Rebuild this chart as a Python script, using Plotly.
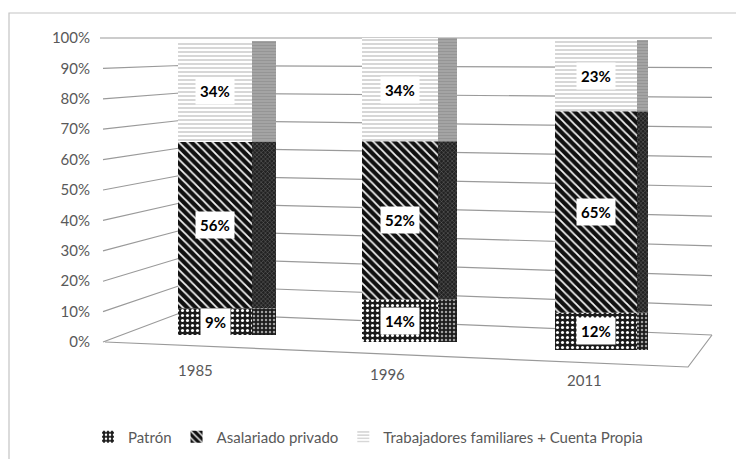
import plotly.graph_objects as go

# ---- data (percent of employed, by occupational category) ----
years = ["1985", "1996", "2011"]
series_names = ["Patrón", "Asalariado privado", "Trabajadores familiares + Cuenta Propia"]
patron = [9, 14, 12]
asalariado = [56, 52, 65]
trabajadores = [34, 34, 23]
tick_values = [0, 10, 20, 30, 40, 50, 60, 70, 80, 90, 100]
tick_labels = ["0%", "10%", "20%", "30%", "40%", "50%", "60%", "70%", "80%", "90%", "100%"]

series_values = [patron, asalariado, trabajadores]

# ---- canvas geometry (pixels) ----
W, H = 736, 459
FONT = "Lato"
TEXT_GREY = "#595959"
GRID_GREY = "#9a9a9a"


def px(x):
    return x / W


def py(y):
    return 1 - y / H


# value axis as printed on the left edge of the side wall
AXIS_Y0, AXIS_Y100 = 342, 38
# side wall / back wall corners of the pseudo-3D box
WALL_LEFT_X, WALL_RIGHT_X = 180, 712
LABEL_LINE_X = 103
BACK_TOP_Y = 38


def back_height(x):
    # back wall gets slightly taller toward the right (perspective)
    return 275 + (x - WALL_LEFT_X) * (22 / (WALL_RIGHT_X - WALL_LEFT_X))


def axis_y(v):
    return AXIS_Y0 + (AXIS_Y100 - AXIS_Y0) * v / 100


def back_y(v, x):
    return BACK_TOP_Y + (1 - v / 100) * back_height(x)


# horizontal placement of the columns
X0, UNIT = 215, 190.5
FRONT_PX = [(178, 252), (362, 438), (555, 637)]
SIDE_RIGHT_PX = [276, 457, 648]
COL_BOTTOM_PX = [335, 342, 350]
COL_TOP_PX = [38, 38, 40]
YEAR_LABEL_PX = [(195, 381), (387, 385), (584, 391)]

# fill patterns (front face, side face) per series
FRONT_STYLE = [
    dict(shape=".", bgcolor="#1c1c1c", fgcolor="#ffffff", size=5, solidity=0.3),
    dict(shape="\\", bgcolor="#101010", fgcolor="#f2f2f2", size=6, solidity=0.3),
    dict(shape="-", bgcolor="#ffffff", fgcolor="#bdbdbd", size=4, solidity=0.3),
]
SIDE_STYLE = [
    dict(shape=".", bgcolor="#1c1c1c", fgcolor="#a0a0a0", size=4, solidity=0.3),
    dict(shape="x", bgcolor="#222222", fgcolor="#7a7a7a", size=3, solidity=0.25),
    dict(shape="-", bgcolor="#a4a4a4", fgcolor="#8c8c8c", size=3, solidity=0.2),
]

fig = go.Figure()

# anchor trace for the labelled value axis
fig.add_trace(go.Scatter(x=[None], y=[None], xaxis="x", yaxis="y",
                         showlegend=False, hoverinfo="skip"))

annotations = []
for i, year in enumerate(years):
    yaxis_name = f"y{i + 2}"
    centre_px = X0 + i * UNIT
    left, right = FRONT_PX[i]
    base = 0
    for s, name in enumerate(series_names):
        val = series_values[s][i]
        # front face
        fig.add_trace(go.Bar(
            x=[i], y=[val], base=[base],
            width=[(right - left) / UNIT],
            offset=[(left - centre_px) / UNIT],
            xaxis="x", yaxis=yaxis_name,
            name=name, legendgroup=name, showlegend=(i == 0),
            marker=dict(color=FRONT_STYLE[s]["bgcolor"], line=dict(width=0),
                        pattern=dict(fillmode="replace", **FRONT_STYLE[s])),
            hoverinfo="skip",
        ))
        # side face
        fig.add_trace(go.Bar(
            x=[i], y=[val], base=[base],
            width=[(SIDE_RIGHT_PX[i] - right) / UNIT],
            offset=[(right - centre_px) / UNIT],
            xaxis="x", yaxis=yaxis_name,
            name=name, legendgroup=name, showlegend=False,
            marker=dict(color=SIDE_STYLE[s]["bgcolor"], line=dict(width=0),
                        pattern=dict(fillmode="replace", **SIDE_STYLE[s])),
            hoverinfo="skip",
        ))
        # value label
        annotations.append(dict(
            x=i, y=base + val / 2, xref="x", yref=yaxis_name,
            xshift=(left + right) / 2 - centre_px,
            text=f"<b>{val}%</b>", showarrow=False,
            font=dict(family=FONT, size=15, color="#000000"),
            bgcolor="#ffffff", borderpad=4,
        ))
        base += val
    # category label on the floor edge
    lx, ly = YEAR_LABEL_PX[i]
    annotations.append(dict(
        x=i, y=py(ly), xref="x", yref="paper", xshift=lx - centre_px,
        text=year, showarrow=False,
        font=dict(family=FONT, size=15, color=TEXT_GREY),
    ))

# perspective grid: side wall segment + back wall segment for every tick
shapes = []
for v in tick_values:
    x_start = LABEL_LINE_X - (3 if v == 100 else 0)
    path = (f"M {px(x_start)} {py(axis_y(v))} "
            f"L {px(WALL_LEFT_X)} {py(back_y(v, WALL_LEFT_X))} "
            f"L {px(WALL_RIGHT_X)} {py(back_y(v, WALL_RIGHT_X))}")
    shapes.append(dict(type="path", path=path, xref="paper", yref="paper",
                       line=dict(color=GRID_GREY, width=1.2), layer="below"))

# floor: front edge and right edge
floor_front_right = (688, 367)
floor_path = (f"M {px(LABEL_LINE_X + 2)} {py(axis_y(0))} "
              f"L {px(floor_front_right[0])} {py(floor_front_right[1])} "
              f"L {px(WALL_RIGHT_X)} {py(back_y(0, WALL_RIGHT_X))}")
shapes.append(dict(type="path", path=floor_path, xref="paper", yref="paper",
                   line=dict(color=GRID_GREY, width=1.2), layer="below"))

# chart area frame
shapes.append(dict(type="rect", xref="paper", yref="paper",
                   x0=px(9), x1=px(W + 10), y0=py(H + 10), y1=py(13),
                   line=dict(color="#c4c4c4", width=1.2), layer="below"))

layout = dict(
    width=W, height=H,
    margin=dict(l=0, r=0, t=0, b=0, autoexpand=False),
    paper_bgcolor="#ffffff", plot_bgcolor="rgba(0,0,0,0)",
    barmode="overlay",
    font=dict(family=FONT, size=15, color=TEXT_GREY),
    xaxis=dict(domain=[px(100), px(720)],
               range=[(100 - X0) / UNIT, (720 - X0) / UNIT],
               visible=False, anchor="y", fixedrange=True),
    yaxis=dict(domain=[py(AXIS_Y0), py(AXIS_Y100)], range=[0, 100],
               tickmode="array", tickvals=tick_values, ticktext=tick_labels,
               showgrid=False, zeroline=False, showline=False, ticks="",
               anchor="free", position=px(90),
               tickfont=dict(family=FONT, size=15, color=TEXT_GREY),
               fixedrange=True),
    legend=dict(orientation="h", x=0.5, xanchor="center",
                y=py(437), yanchor="middle", itemwidth=30,
                font=dict(family=FONT, size=15, color=TEXT_GREY),
                bgcolor="rgba(0,0,0,0)", traceorder="normal"),
    shapes=shapes,
    annotations=annotations,
    showlegend=True,
)
for i in range(len(years)):
    layout[f"yaxis{i + 2}"] = dict(
        domain=[py(COL_BOTTOM_PX[i]), py(COL_TOP_PX[i])], range=[0, 100],
        visible=False, anchor="x", fixedrange=True,
    )

fig.update_layout(**layout)
fig.write_html("out.html")
